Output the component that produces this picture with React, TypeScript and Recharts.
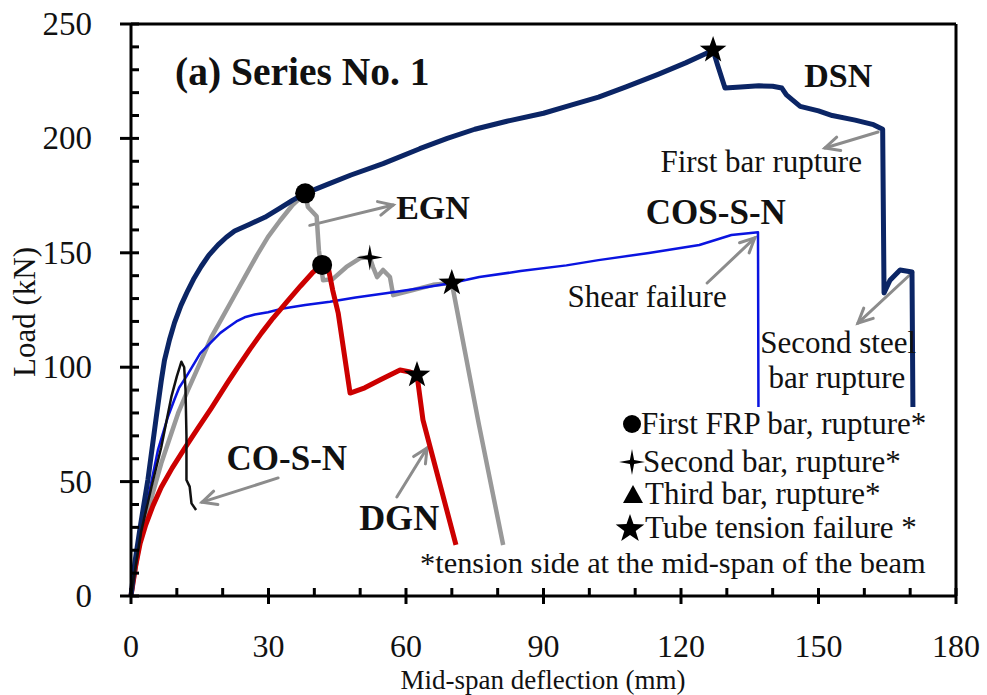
import { ComposedChart, Line, Scatter, XAxis, YAxis, ReferenceLine, ReferenceDot } from 'recharts'

const FONT = "'Liberation Serif', 'Times New Roman', serif"

const X_TICKS = [0, 10, 20, 30, 40, 50, 60, 70, 80, 90, 100, 110, 120, 130, 140, 150, 160, 170, 180]
const Y_TICKS = [0, 10, 20, 30, 40, 50, 60, 70, 80, 90, 100, 110, 120, 130, 140, 150, 160, 170, 180, 190, 200, 210, 220, 230, 240, 250]

// load-deflection curves, [deflection mm, load kN]
const DSN = [
  [0, 0], [0.8, 14], [2, 30], [3.7, 51], [5.5, 78], [6.6, 94], [7.3, 103], [8.4, 112], [9.5, 119.5],
  [10.9, 127], [12.4, 133.5], [13.8, 139], [15.3, 144], [17, 149], [19, 153.5], [20.8, 156.8], [22.6, 159.5],
  [25.9, 162.5], [29.2, 165.5], [32.5, 169.5], [35.3, 173], [38, 176], [43, 180], [48, 184], [55, 189],
  [63, 195.5], [69, 200], [75, 204], [82, 207.5], [90, 211], [96, 214.5], [102, 218], [108, 222.5],
  [115, 228], [121, 233], [127, 238.5], [128, 232], [129.6, 222], [133, 222.5], [137, 223], [140, 222.8],
  [142, 222], [143, 219], [144.5, 216.5], [146, 214], [150, 212], [153, 210], [158, 208], [162, 206],
  [164, 204], [164.3, 132.4], [165.6, 138], [167.8, 142.5], [170.4, 141.6], [170.6, 82.6],
]
const COS_S_N = [
  [0, 0], [2.2, 28], [5.9, 64], [8, 78], [9.5, 86], [10.5, 91], [12.1, 96], [13.9, 102], [15.1, 106],
  [17.5, 111], [19.5, 115], [21.2, 117.5], [23, 120], [24.8, 121.8], [27, 123], [29.9, 124], [33.2, 125.7],
  [38, 127.2], [43.4, 128.6], [49, 130.5], [56, 132.4], [63, 134.5], [70, 136.8], [76, 139.4], [85, 142],
  [95, 144.5], [102, 146.8], [113, 149.9], [124, 153.4], [131, 157.8], [136.8, 159], [136.9, 82.6],
]
const CO_S_N = [
  [0, 0], [2.2, 28], [4.5, 48], [6.6, 65], [8.8, 87], [10, 96], [11, 102.4], [11.6, 100], [11.9, 90],
  [12.1, 70], [12.1, 50.7], [12.8, 47.8], [13.2, 40.5], [14.2, 37.6],
]
const EGN = [
  [0, 0], [2.2, 27], [6.6, 58], [10.3, 80], [12.2, 89], [15.1, 102], [17.5, 113], [20, 122], [22.5, 131],
  [25, 140], [27.5, 149], [29.9, 157], [32.5, 164], [35.3, 171], [38, 176], [38.6, 170], [40.5, 166],
  [41, 151], [41.9, 138], [44, 138.5], [47, 143.8], [50, 147.7], [52.1, 148], [52.8, 143.8], [53.7, 139.4],
  [55, 142.5], [56.5, 139.4], [57.2, 131.5], [61.5, 133.7], [65.9, 136], [70, 136.8], [75.9, 75], [81.2, 22.3],
]
const DGN = [
  [0, 0], [1, 13], [2, 23], [3.2, 31], [4.8, 39.5], [6.6, 47.5], [9, 56], [11.7, 64.5], [14.5, 73], [17.5, 82],
  [21, 93], [23.3, 100], [26, 108], [28.5, 115], [31, 121.5], [34, 128.5], [37, 135.5], [39.7, 141.5],
  [41.7, 144.7], [43, 143.8], [44, 133.7], [45.2, 123.7], [47.8, 88.7], [51, 91], [54.3, 94.4], [58.7, 98.8],
  [60.9, 97.9], [62.4, 96.6], [63.7, 77], [70.9, 22.3],
]

// failure markers
const FRP_RUPTURE = [[38, 176], [41.7, 144.7]]
const SECOND_RUPTURE = [[52.1, 148]]
const TUBE_FAILURE = [[127, 238.6], [70, 136.8], [62.4, 96.6]]

// annotation text: [text, x, y, fontSize, bold, anchor]
const LABELS: [string, number, number, number, boolean, string][] = [
  ['(a) Series No. 1', 9.6, 229, 39.5, true, 'start'],
  ['DSN', 154.3, 227.7, 34, true, 'middle'],
  ['EGN', 65.9, 170, 34, true, 'middle'],
  ['COS-S-N', 127.6, 167.4, 35, true, 'middle'],
  ['CO-S-N', 34, 60.3, 35, true, 'middle'],
  ['DGN', 58.5, 34, 36, true, 'middle'],
  ['First bar rupture', 137.5, 189.7, 31, false, 'middle'],
  ['Shear failure', 112.6, 130.7, 31, false, 'middle'],
  ['Second steel', 154.3, 110.6, 31, false, 'middle'],
  ['bar rupture', 154, 95.7, 31, false, 'middle'],
]

// arrows: [from x, from y, to x, to y]
const ARROWS = [
  [39, 162, 57.2, 170.9],
  [32.1, 51.6, 15.5, 41],
  [58, 43.3, 64.6, 64.7],
  [163, 202.8, 151.4, 195.8],
  [125.7, 136.8, 136.1, 156.5],
  [170.6, 141.6, 158.6, 119.3],
]

const LEGEND = ['First FRP bar, rupture*', 'Second bar, rupture*', 'Third bar, rupture*', 'Tube tension failure *']

const toXY = (pts: number[][]) => pts.map(([x, y]) => ({ x, y }))

function starPath(cx: number, cy: number, n: number, ro: number, ri: number) {
  let d = ''
  for (let i = 0; i < n * 2; i++) {
    const r = i % 2 === 0 ? ro : ri
    const a = (Math.PI * i) / n - Math.PI / 2
    d += (i === 0 ? 'M' : 'L') + (cx + r * Math.cos(a)).toFixed(1) + ',' + (cy + r * Math.sin(a)).toFixed(1)
  }
  return d + 'Z'
}

const Circle = ({ cx, cy }: any) => <circle cx={cx} cy={cy} r={10} fill="#000" />
const Star4 = ({ cx, cy }: any) => <path d={starPath(cx, cy, 4, 13, 3)} fill="#000" />
const Star5 = ({ cx, cy }: any) => <path d={starPath(cx, cy, 5, 14, 5.6)} fill="#000" />

const XTick = ({ x, y, payload }: any) => {
  const major = payload.value % 30 === 0
  return (
    <g>
      <line x1={x} x2={x} y1={y - 8} y2={major ? y + 8 : y} stroke="#000" strokeWidth={3} />
      {major && (
        <text x={x} y={y + 61} textAnchor="middle" fontSize={32} fontFamily={FONT} fill="#111">
          {payload.value}
        </text>
      )}
    </g>
  )
}

const YTick = ({ x, y, payload }: any) => {
  const major = payload.value % 50 === 0
  return (
    <g>
      <line x1={major ? x - 11 : x} x2={x + 8} y1={y} y2={y} stroke="#000" strokeWidth={3} />
      {major && (
        <text x={x - 39} y={y + 11} textAnchor="end" fontSize={33} fontFamily={FONT} fill="#111">
          {payload.value}
        </text>
      )}
    </g>
  )
}

const Arrow = ({ x1, y1, x2, y2 }: any) => {
  const a = Math.atan2(y2 - y1, x2 - x1)
  const L = 16
  const s = 0.45
  return (
    <g stroke="#8c8c8c" strokeWidth={3} fill="none" strokeLinecap="round">
      <line x1={x1} y1={y1} x2={x2} y2={y2} />
      <polyline
        points={`${x2 - L * Math.cos(a - s)},${y2 - L * Math.sin(a - s)} ${x2},${y2} ${x2 - L * Math.cos(a + s)},${y2 - L * Math.sin(a + s)}`}
      />
    </g>
  )
}

export default function App() {
  return (
    <div style={{ position: 'absolute', left: 0, top: 0, width: 987, height: 695, background: '#fff' }}>
      <ComposedChart width={987} height={695} margin={{ top: 24, right: 31, left: 0, bottom: 0 }}>
        <XAxis
          type="number" dataKey="x" domain={[0, 180]} ticks={X_TICKS} interval={0}
          height={99} tickSize={0} tickMargin={0} tickLine={false} tick={<XTick />}
          axisLine={{ stroke: '#000', strokeWidth: 3 }}
        />
        <YAxis
          type="number" dataKey="y" domain={[0, 250]} ticks={Y_TICKS} interval={0}
          width={131} tickSize={0} tickMargin={0} tickLine={false} tick={<YTick />}
          axisLine={{ stroke: '#000', strokeWidth: 3 }}
        />
        <ReferenceLine y={250} stroke="#000" strokeWidth={3} />
        <ReferenceLine x={180} stroke="#000" strokeWidth={3} />

        {ARROWS.map(([x1, y1, x2, y2], i) => (
          <ReferenceLine key={'a' + i} segment={[{ x: x1, y: y1 }, { x: x2, y: y2 }]} shape={<Arrow />} />
        ))}

        <Line data={toXY(EGN)} dataKey="y" type="linear" stroke="#999999" strokeWidth={4.5} strokeLinejoin="round" dot={false} isAnimationActive={false} />
        <Line data={toXY(COS_S_N)} dataKey="y" type="linear" stroke="#0a14e0" strokeWidth={2.5} strokeLinejoin="round" dot={false} isAnimationActive={false} />
        <Line data={toXY(DGN)} dataKey="y" type="linear" stroke="#cc0000" strokeWidth={5} strokeLinejoin="round" dot={false} isAnimationActive={false} />
        <Line data={toXY(DSN)} dataKey="y" type="linear" stroke="#0b2565" strokeWidth={5} strokeLinejoin="round" dot={false} isAnimationActive={false} />
        <Line data={toXY(CO_S_N)} dataKey="y" type="linear" stroke="#111111" strokeWidth={2.5} strokeLinejoin="round" dot={false} isAnimationActive={false} />

        <Scatter data={toXY(FRP_RUPTURE)} dataKey="y" shape={<Circle />} isAnimationActive={false} />
        <Scatter data={toXY(SECOND_RUPTURE)} dataKey="y" shape={<Star4 />} isAnimationActive={false} />
        <Scatter data={toXY(TUBE_FAILURE)} dataKey="y" shape={<Star5 />} isAnimationActive={false} />

        {LABELS.map(([text, x, y, size, bold, anchor]) => (
          <ReferenceDot
            key={text} x={x} y={y} r={0}
            shape={(p: any) => (
              <text
                x={p.cx} y={p.cy} textAnchor={anchor} dominantBaseline="central"
                fontSize={size} fontWeight={bold ? 'bold' : 'normal'} fontFamily={FONT} fill="#111"
              >
                {text}
              </text>
            )}
          />
        ))}
      </ComposedChart>

      <svg width={987} height={695} style={{ position: 'absolute', left: 0, top: 0, pointerEvents: 'none' }}>
        <text x={35} y={312} transform="rotate(-90 35 312)" textAnchor="middle" fontSize={31} fontFamily={FONT} fill="#111">
          Load (kN)
        </text>
        <text x={543} y={688.5} textAnchor="middle" fontSize={27} fontFamily={FONT} fill="#111">
          Mid-span  deflection  (mm)
        </text>
        <circle cx={632} cy={424} r={9} fill="#000" />
        <path d={starPath(632, 462, 4, 13, 3)} fill="#000" />
        <path d="M623,503 L643,503 L633,485 Z" fill="#000" />
        <path d={starPath(630, 529, 5, 15, 6)} fill="#000" />
        {LEGEND.map((t, i) => (
          <text key={t} x={641 + (i > 1 ? 4 : 2 * i)} y={[424, 462, 494, 528][i] + 10} fontSize={31} fontFamily={FONT} fill="#111">
            {t}
          </text>
        ))}
        <text x={420} y={573} fontSize={30.4} fontFamily={FONT} fill="#111">
          *tension side at the mid-span of the beam
        </text>
      </svg>
    </div>
  )
}
